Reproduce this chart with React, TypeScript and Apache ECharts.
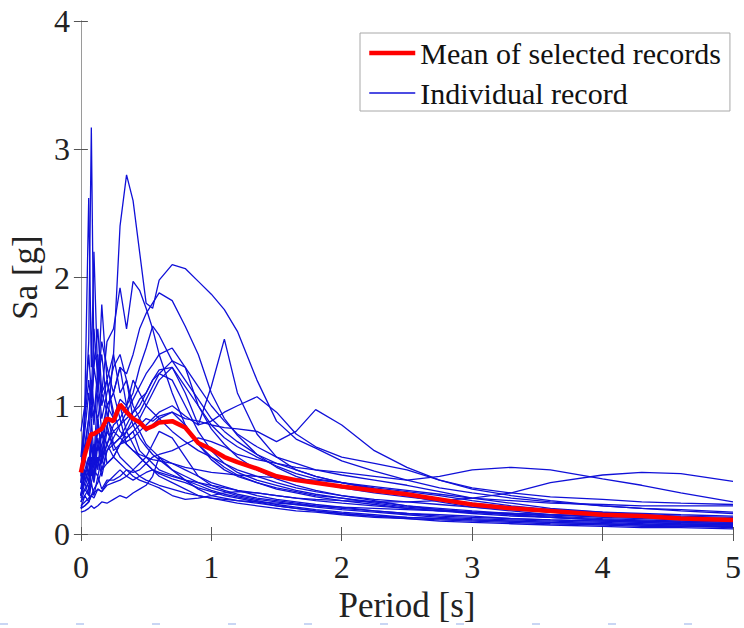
import React, { useEffect, useRef } from 'react';
import * as echarts from 'echarts';

// Period grid [s]
const PERIODS = [0, 0.03, 0.06, 0.08, 0.1, 0.13, 0.16, 0.2, 0.25, 0.3, 0.35, 0.4, 0.45, 0.5, 0.55, 0.6, 0.7, 0.8, 0.9, 1.0, 1.1, 1.2, 1.35, 1.5, 1.65, 1.8, 2.0, 2.25, 2.5, 2.75, 3.0, 3.3, 3.6, 4.0, 4.3, 4.6, 5.0];

const X_TICKS = [0, 1, 2, 3, 4, 5];
const Y_TICKS = [0, 1, 2, 3, 4];

// Individual records, Sa [g] at PERIODS
const rec01 = [0.45, 0.9, 1.5, 3.17, 1.3, 1.6, 1.1, 1.2, 0.95, 0.8, 0.75, 0.8, 0.65, 0.6, 0.55, 0.5, 0.46, 0.42, 0.38, 0.34, 0.31, 0.29, 0.26, 0.23, 0.21, 0.19, 0.17, 0.15, 0.13, 0.12, 0.11, 0.1, 0.09, 0.08, 0.07, 0.07, 0.06];
const rec02 = [0.4, 1.0, 2.62, 1.3, 2.2, 1.2, 1.4, 1.0, 1.1, 0.9, 0.7, 0.65, 0.6, 0.55, 0.5, 0.47, 0.43, 0.4, 0.36, 0.33, 0.3, 0.28, 0.25, 0.22, 0.2, 0.18, 0.16, 0.14, 0.13, 0.12, 0.11, 0.1, 0.09, 0.08, 0.07, 0.06, 0.06];
const rec03 = [0.35, 0.4, 0.5, 0.55, 0.6, 0.55, 0.7, 0.8, 1.4, 2.4, 2.8, 2.6, 2.2, 1.8, 1.76, 1.98, 2.1, 2.07, 1.97, 1.87, 1.75, 1.58, 1.2, 0.88, 0.74, 0.67, 0.57, 0.49, 0.42, 0.36, 0.32, 0.28, 0.25, 0.22, 0.2, 0.19, 0.17];
const rec04 = [0.3, 0.5, 0.4, 0.7, 0.5, 0.9, 0.6, 1.0, 1.1, 1.3, 1.25, 1.4, 1.6, 1.72, 1.8, 1.88, 1.82, 1.62, 1.4, 1.1, 0.9, 0.77, 0.62, 0.52, 0.45, 0.4, 0.36, 0.32, 0.29, 0.26, 0.23, 0.21, 0.19, 0.16, 0.15, 0.14, 0.13];
const rec05 = [0.5, 0.7, 0.9, 1.1, 0.9, 1.3, 1.1, 1.5, 1.6, 1.92, 1.6, 1.97, 1.9, 1.76, 1.6, 1.4, 1.1, 0.85, 0.7, 0.6, 0.52, 0.46, 0.4, 0.35, 0.32, 0.29, 0.26, 0.23, 0.2, 0.18, 0.16, 0.14, 0.13, 0.11, 0.1, 0.1, 0.09];
const rec06 = [0.3, 0.45, 0.35, 0.6, 0.45, 0.75, 0.55, 0.8, 0.7, 0.75, 0.8, 0.85, 0.9, 1.0, 1.1, 1.2, 1.3, 1.1, 0.85, 1.15, 1.52, 1.1, 0.78, 0.6, 0.5, 0.45, 0.4, 0.35, 0.3, 0.27, 0.24, 0.21, 0.19, 0.17, 0.16, 0.15, 0.14];
const rec07 = [0.35, 0.6, 0.45, 0.9, 0.6, 1.1, 0.8, 1.0, 0.9, 1.05, 1.0, 1.1, 1.3, 1.45, 1.62, 1.55, 1.35, 1.2, 1.05, 0.9, 0.8, 0.72, 0.62, 0.55, 0.5, 0.45, 0.4, 0.35, 0.3, 0.25, 0.21, 0.18, 0.15, 0.13, 0.12, 0.11, 0.1];
const rec08 = [0.25, 0.35, 0.3, 0.5, 0.4, 0.6, 0.45, 0.65, 0.75, 0.85, 0.95, 1.05, 1.15, 1.25, 1.32, 1.4, 1.45, 1.3, 1.0, 0.82, 0.7, 0.6, 0.5, 0.43, 0.38, 0.34, 0.3, 0.26, 0.22, 0.19, 0.17, 0.15, 0.13, 0.11, 0.1, 0.09, 0.08];
const rec09 = [0.4, 0.5, 0.6, 0.55, 0.7, 0.65, 0.8, 0.7, 0.6, 0.7, 0.75, 0.8, 0.85, 0.9, 0.88, 0.92, 0.95, 0.9, 0.88, 0.85, 0.83, 0.82, 0.8, 0.72, 0.8, 0.97, 0.85, 0.65, 0.52, 0.42, 0.35, 0.3, 0.26, 0.22, 0.2, 0.18, 0.16];
const rec10 = [0.3, 0.5, 0.4, 0.75, 0.55, 0.9, 0.6, 0.85, 0.65, 0.7, 0.72, 0.75, 0.8, 0.85, 0.9, 0.95, 1.0, 0.92, 0.85, 0.88, 0.95, 1.0, 1.07, 0.95, 0.78, 0.68, 0.6, 0.55, 0.5, 0.42, 0.36, 0.32, 0.29, 0.27, 0.25, 0.24, 0.23];
const rec11 = [0.2, 0.3, 0.25, 0.4, 0.3, 0.45, 0.35, 0.42, 0.42, 0.45, 0.5, 0.48, 0.5, 0.55, 0.6, 0.62, 0.65, 0.7, 0.75, 0.72, 0.68, 0.62, 0.58, 0.55, 0.52, 0.5, 0.48, 0.45, 0.42, 0.45, 0.5, 0.52, 0.5, 0.43, 0.38, 0.32, 0.25];
const rec12 = [0.2, 0.22, 0.25, 0.3, 0.28, 0.35, 0.33, 0.4, 0.45, 0.5, 0.45, 0.42, 0.45, 0.48, 0.5, 0.48, 0.45, 0.42, 0.4, 0.38, 0.36, 0.34, 0.32, 0.3, 0.28, 0.27, 0.26, 0.25, 0.25, 0.26, 0.28, 0.32, 0.4, 0.46, 0.48, 0.47, 0.41];
const rec13 = [0.3, 0.45, 0.6, 0.45, 0.7, 0.5, 0.8, 0.55, 0.6, 0.7, 0.8, 0.9, 0.95, 1.05, 1.15, 1.25, 1.35, 1.3, 1.15, 1.0, 0.88, 0.78, 0.68, 0.6, 0.55, 0.5, 0.46, 0.42, 0.38, 0.33, 0.28, 0.24, 0.2, 0.17, 0.15, 0.13, 0.11];
const rec14 = [0.17, 0.18, 0.2, 0.22, 0.2, 0.22, 0.25, 0.24, 0.27, 0.3, 0.28, 0.32, 0.35, 0.38, 0.45, 0.6, 0.5, 0.42, 0.35, 0.3, 0.28, 0.26, 0.24, 0.22, 0.2, 0.18, 0.16, 0.14, 0.12, 0.1, 0.09, 0.08, 0.07, 0.06, 0.05, 0.05, 0.04];
const rec15 = [0.22, 0.25, 0.28, 0.3, 0.32, 0.35, 0.33, 0.38, 0.4, 0.42, 0.45, 0.5, 0.55, 0.6, 0.7, 0.8, 0.75, 0.6, 0.45, 0.38, 0.34, 0.31, 0.28, 0.26, 0.24, 0.22, 0.2, 0.18, 0.16, 0.15, 0.14, 0.12, 0.11, 0.1, 0.09, 0.08, 0.07];
const rec16 = [0.6, 0.9, 1.2, 1.0, 1.35, 1.4, 1.0, 1.2, 0.9, 1.0, 0.8, 0.7, 0.6, 0.55, 0.5, 0.45, 0.4, 0.35, 0.3, 0.28, 0.26, 0.24, 0.22, 0.2, 0.18, 0.17, 0.15, 0.13, 0.12, 0.11, 0.1, 0.09, 0.08, 0.07, 0.06, 0.06, 0.05];
const rec17 = [0.5, 0.8, 1.1, 0.9, 1.3, 1.1, 1.79, 1.2, 1.4, 1.1, 1.2, 0.9, 0.8, 0.7, 0.65, 0.6, 0.55, 0.5, 0.45, 0.4, 0.37, 0.34, 0.3, 0.27, 0.25, 0.23, 0.21, 0.18, 0.16, 0.14, 0.13, 0.12, 0.11, 0.1, 0.09, 0.08, 0.07];
const rec18 = [0.8, 1.0, 1.4, 1.1, 1.6, 1.2, 1.5, 1.3, 1.1, 1.3, 1.0, 0.85, 0.75, 0.68, 0.62, 0.58, 0.5, 0.45, 0.4, 0.36, 0.33, 0.3, 0.27, 0.25, 0.23, 0.21, 0.19, 0.17, 0.15, 0.13, 0.12, 0.11, 0.1, 0.09, 0.08, 0.07, 0.07];
const rec19 = [0.3, 0.35, 0.4, 0.5, 0.45, 0.6, 0.55, 0.7, 0.8, 0.75, 0.7, 0.65, 0.62, 0.6, 0.58, 0.57, 0.55, 0.52, 0.5, 0.48, 0.47, 0.46, 0.45, 0.44, 0.43, 0.42, 0.4, 0.37, 0.34, 0.31, 0.28, 0.26, 0.24, 0.23, 0.22, 0.22, 0.22];
const rec20 = [0.25, 0.3, 0.35, 0.4, 0.5, 0.45, 0.6, 0.7, 0.85, 0.9, 1.0, 1.2, 1.1, 1.0, 0.95, 0.9, 0.8, 0.72, 0.65, 0.6, 0.55, 0.5, 0.45, 0.4, 0.36, 0.33, 0.3, 0.27, 0.25, 0.23, 0.21, 0.19, 0.17, 0.15, 0.14, 0.13, 0.12];
const rec21 = [0.2, 0.22, 0.25, 0.3, 0.35, 0.4, 0.5, 0.55, 0.6, 0.55, 0.5, 0.45, 0.42, 0.4, 0.38, 0.36, 0.3, 0.27, 0.28, 0.3, 0.32, 0.33, 0.32, 0.3, 0.28, 0.26, 0.24, 0.22, 0.2, 0.18, 0.17, 0.16, 0.15, 0.14, 0.13, 0.12, 0.12];
const rec22 = [0.4, 0.6, 0.8, 1.0, 0.85, 1.2, 0.9, 1.1, 1.3, 1.4, 1.2, 1.0, 0.9, 0.8, 0.85, 0.9, 0.95, 0.85, 0.7, 0.58, 0.5, 0.45, 0.4, 0.36, 0.33, 0.3, 0.28, 0.25, 0.22, 0.2, 0.18, 0.16, 0.14, 0.12, 0.11, 0.1, 0.09];
const rec23 = [0.35, 0.45, 0.55, 0.7, 0.6, 0.8, 0.75, 0.9, 0.8, 0.85, 0.9, 0.95, 1.0, 1.1, 1.2, 1.25, 1.2, 1.0, 0.8, 0.65, 0.55, 0.48, 0.42, 0.38, 0.34, 0.31, 0.28, 0.24, 0.21, 0.19, 0.17, 0.15, 0.13, 0.11, 0.1, 0.09, 0.08];
const rec24 = [0.5, 0.65, 0.9, 1.2, 1.0, 0.9, 1.1, 0.95, 0.7, 0.6, 0.55, 0.5, 0.45, 0.42, 0.4, 0.38, 0.35, 0.32, 0.3, 0.28, 0.27, 0.26, 0.25, 0.24, 0.23, 0.22, 0.21, 0.2, 0.19, 0.18, 0.17, 0.16, 0.15, 0.14, 0.13, 0.12, 0.11];
const rec25 = [0.28, 0.4, 0.3, 0.55, 0.42, 0.7, 0.5, 0.65, 0.7, 0.75, 0.85, 0.95, 1.05, 1.1, 1.2, 1.28, 1.3, 1.15, 1.0, 0.85, 0.75, 0.68, 0.6, 0.53, 0.47, 0.43, 0.4, 0.36, 0.33, 0.3, 0.26, 0.22, 0.19, 0.16, 0.14, 0.12, 0.1];

// Mean of selected records, Sa [g] at PERIODS
const meanSa = [0.48, 0.62, 0.72, 0.78, 0.78, 0.8, 0.82, 0.9, 0.88, 1.01, 0.95, 0.9, 0.87, 0.82, 0.84, 0.87, 0.88, 0.83, 0.71, 0.66, 0.6, 0.56, 0.51, 0.45, 0.42, 0.4, 0.37, 0.34, 0.31, 0.27, 0.23, 0.2, 0.18, 0.15, 0.14, 0.12, 0.11];

const RECORDS = [rec01, rec02, rec03, rec04, rec05, rec06, rec07, rec08, rec09, rec10, rec11, rec12, rec13, rec14, rec15, rec16, rec17, rec18, rec19, rec20, rec21, rec22, rec23, rec24, rec25];

const MEAN_NAME = 'Mean of selected records';
const IND_NAME = 'Individual record';

const FONT = "'Liberation Serif', 'Times New Roman', 'DejaVu Serif', serif";
const BLUE = '#1010d8';
const RED = '#ff0000';

export default function App() {
  const ref = useRef<HTMLDivElement>(null);

  useEffect(() => {
    if (!ref.current) return;
    const chart = echarts.init(ref.current, undefined, { renderer: 'svg' });

    const toPairs = (vals: number[]) => PERIODS.map((t, i) => [t, vals[i]]);

    const blueSeries = RECORDS.map((r) => ({
      name: IND_NAME,
      type: 'line',
      xAxisIndex: 0,
      yAxisIndex: 0,
      data: toPairs(r),
      symbol: 'none',
      showSymbol: false,
      silent: true,
      lineStyle: { color: BLUE, width: 1.3 },
      itemStyle: { color: BLUE },
      emphasis: { disabled: true },
      z: 2,
    }));

    const axisCommon = {
      type: 'value' as const,
      axisLine: { show: true, lineStyle: { color: '#9a9a9a', width: 1 } },
      axisTick: { show: true, inside: true, length: 7, lineStyle: { color: '#555', width: 1 } },
      splitLine: { show: false },
    };

    chart.setOption({
      animation: false,
      backgroundColor: '#ffffff',
      grid: { left: 78, right: 6, top: 21, bottom: 94, containLabel: false },
      legend: {
        data: [MEAN_NAME, IND_NAME],
        orient: 'vertical',
        left: 360,
        top: 33,
        padding: [5, 9, 3, 7],
        itemGap: 10,
        itemWidth: 46,
        itemHeight: 14,
        backgroundColor: '#ffffff',
        borderColor: '#a8a8a8',
        borderWidth: 1,
        borderRadius: 0,
        selectedMode: false,
        itemStyle: { opacity: 0 },
        lineStyle: { width: 'inherit', opacity: 1 },
        textStyle: { fontFamily: FONT, fontSize: 30, color: '#111' },
      },
      xAxis: [
        {
          ...axisCommon,
          min: 0,
          max: 5,
          interval: 1,
          position: 'bottom',
          name: 'Period [s]',
          nameLocation: 'middle',
          nameGap: 42,
          nameTextStyle: { fontFamily: FONT, fontSize: 35, color: '#222' },
          axisLabel: {
            show: true,
            margin: 17,
            fontFamily: FONT,
            fontSize: 32,
            color: '#222',
            formatter: (v: number) => (X_TICKS.includes(v) ? String(v) : ''),
          },
        },
        {
          ...axisCommon,
          min: 0,
          max: 5,
          interval: 1,
          position: 'top',
          axisLabel: { show: false },
        },
      ],
      yAxis: [
        {
          ...axisCommon,
          min: 0,
          max: 4,
          interval: 1,
          position: 'left',
          name: 'Sa [g]',
          nameLocation: 'middle',
          nameGap: 31,
          nameTextStyle: { fontFamily: FONT, fontSize: 35, color: '#222' },
          axisLabel: {
            show: true,
            margin: 11,
            fontFamily: FONT,
            fontSize: 32,
            color: '#222',
            formatter: (v: number) => (Y_TICKS.includes(v) ? String(v) : ''),
          },
        },
        {
          ...axisCommon,
          min: 0,
          max: 4,
          interval: 1,
          position: 'right',
          axisLabel: { show: false },
        },
      ],
      series: [
        ...blueSeries,
        {
          name: MEAN_NAME,
          type: 'line',
          xAxisIndex: 0,
          yAxisIndex: 0,
          data: toPairs(meanSa),
          symbol: 'none',
          showSymbol: false,
          silent: true,
          lineStyle: { color: RED, width: 4.5 },
          itemStyle: { color: RED },
          emphasis: { disabled: true },
          z: 3,
        },
      ],
      graphic: [
        {
          type: 'line',
          silent: true,
          shape: { x1: 0, y1: 624, x2: 744, y2: 624 },
          style: { stroke: '#c9d6f4', lineWidth: 2, lineDash: [8, 68] },
        },
      ],
    });

    return () => chart.dispose();
  }, []);

  return (
    <div
      ref={ref}
      style={{ position: 'fixed', left: 0, top: 0, width: 744, height: 628, background: '#fff' }}
    />
  );
}
